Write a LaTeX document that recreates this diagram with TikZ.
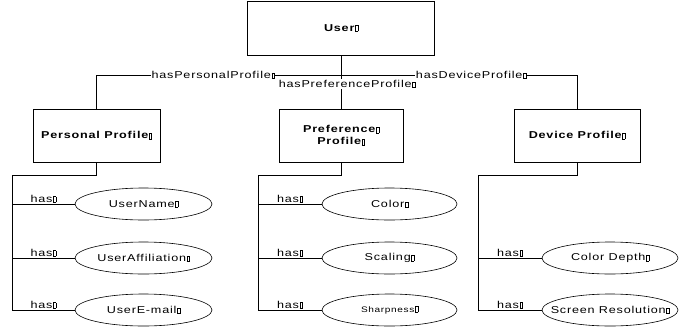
\documentclass[tikz,border=0pt]{standalone}
\usepackage{fontspec}
\setmainfont{Liberation Sans}[FakeStretch=1.26, LetterSpace=8]
\usetikzlibrary{shapes.geometric}
% small empty box that follows every label
\newcommand\tbox{\kern0.6pt{\setlength\fboxsep{0pt}\setlength\fboxrule{0.35pt}\fbox{\rule{0pt}{5.6pt}\rule{2.2pt}{0pt}}}}
% attribute text that does not widen its ellipse
\newcommand\attrtext[1]{\makebox[0pt][c]{#1}}
\tikzset{
  conn/.style={line width=0.7pt, black},
  entity/.style={draw, line width=0.7pt, rectangle, align=center, inner sep=0pt,
    font=\fontsize{10}{11}\selectfont\bfseries},
  attr/.style={draw, line width=0.6pt, ellipse, inner sep=0pt, minimum height=32pt,
    font=\fontsize{10}{11}\selectfont},
  rel/.style={fill=white, inner sep=1pt, font=\fontsize{10}{11}\selectfont},
  haslbl/.style={inner sep=1pt, font=\fontsize{10}{11}\selectfont, above},
}
\begin{document}
\begin{tikzpicture}[x=1pt, y=-1pt]
\useasboundingbox (0,0) rectangle (693,327);

% top concept and the three profiles
\node[entity, minimum width=187pt, minimum height=54pt] (user) at (341,28) {User\tbox};
\node[entity, minimum width=127pt, minimum height=53pt] (personal) at (96.5,135.5) {Personal Profile\tbox};
\node[entity, minimum width=124pt, minimum height=53pt] (preference) at (341,135.5) {Preference\tbox\\[1pt]Profile\tbox};
\node[entity, minimum width=126pt, minimum height=53pt] (device) at (577,135.5) {Device Profile\tbox};

% attributes
\node[attr, minimum width=137pt] (uname) at (143.5,204) {\attrtext{UserName\tbox}};
\node[attr, minimum width=137pt] (uaff)  at (143.5,258) {\attrtext{UserAffiliation\tbox}};
\node[attr, minimum width=137pt] (umail) at (143.5,310) {\attrtext{UserE-mail\tbox}};

\node[attr, minimum width=135pt] (color) at (389.5,204) {\attrtext{Color\tbox}};
\node[attr, minimum width=135pt] (scal)  at (389.5,258) {\attrtext{Scaling\tbox}};
\node[attr, minimum width=135pt, font=\fontsize{8}{9}\selectfont] (sharp) at (389.5,310) {\attrtext{Sharpness\tbox}};

\node[attr, minimum width=136pt] (cdepth) at (610,258) {\attrtext{Color Depth\tbox}};
\node[attr, minimum width=136pt] (sres)   at (610,310) {\attrtext{Screen Resolution\tbox}};

% junctions
\coordinate (hub) at (341,75);
\coordinate (pl) at (12,175);
\coordinate (fl) at (258,175);
\coordinate (dl) at (478,175);

% profile relations
\draw[conn] (user.south) -- (hub) -| (personal.north);
\draw[conn] (hub) -| (device.north);
\draw[conn] (user.south) -- (preference.north);
\node[rel] at (213,75) {hasPersonalProfile\tbox};
\node[rel] at (471,75) {hasDeviceProfile\tbox};
\node[rel] at (347,84) {hasPreferenceProfile\tbox};

% personal profile attributes
\draw[conn] (personal.south) |- (pl) -- (pl |- umail.west) -- (umail.west) node[haslbl, pos=0.5] {has\tbox};
\draw[conn] (pl |- uname.west) -- (uname.west) node[haslbl, pos=0.5] {has\tbox};
\draw[conn] (pl |- uaff.west) -- (uaff.west) node[haslbl, pos=0.5] {has\tbox};

% preference profile attributes
\draw[conn] (preference.south) |- (fl) -- (fl |- sharp.west) -- (sharp.west) node[haslbl, pos=0.5] {has\tbox};
\draw[conn] (fl |- color.west) -- (color.west) node[haslbl, pos=0.5] {has\tbox};
\draw[conn] (fl |- scal.west) -- (scal.west) node[haslbl, pos=0.5] {has\tbox};

% device profile attributes
\draw[conn] (device.south) |- (dl) -- (dl |- sres.west) -- (sres.west) node[haslbl, pos=0.5] {has\tbox};
\draw[conn] (dl |- cdepth.west) -- (cdepth.west) node[haslbl, pos=0.5] {has\tbox};
\end{tikzpicture}
\end{document}
